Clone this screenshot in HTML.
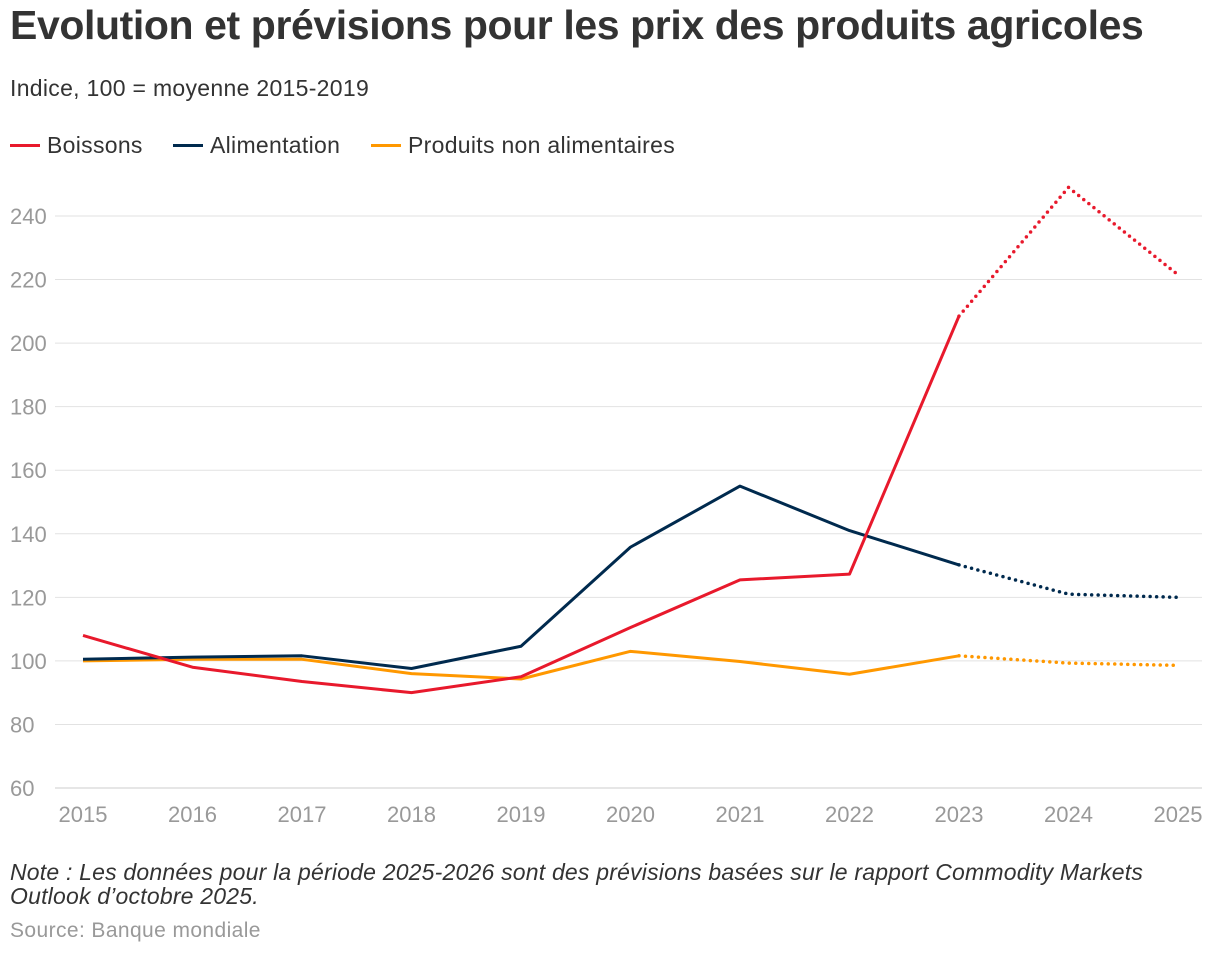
<!DOCTYPE html>
<html><head><meta charset="utf-8">
<style>
body{margin:0;background:#fff;width:1220px;height:954px;overflow:hidden;font-family:"Liberation Sans",Arial,sans-serif;color:#333;}
#title{position:absolute;left:10px;top:2px;font-size:41px;font-weight:bold;letter-spacing:-0.4px;color:#333;white-space:nowrap;}
#sub{position:absolute;left:10px;top:75px;font-size:23px;letter-spacing:0.3px;color:#333;}
.leg{position:absolute;top:132px;font-size:23px;letter-spacing:0.3px;color:#333;display:flex;align-items:center;white-space:nowrap;}
.leg span.sw{display:inline-block;width:30px;height:3px;margin-right:7px;}
#note{position:absolute;left:10px;top:860px;font-size:23px;letter-spacing:0.2px;font-style:italic;color:#333;line-height:24px;width:1180px;}
#src{position:absolute;left:10px;top:919px;font-size:21px;letter-spacing:0.4px;color:#999;}
svg{position:absolute;left:0;top:0;}
</style></head><body>
<div id="title">Evolution et prévisions pour les prix des produits agricoles</div>
<div id="sub">Indice, 100 = moyenne 2015-2019</div>
<div class="leg" style="left:10px"><span class="sw" style="background:#e8192c"></span>Boissons</div>
<div class="leg" style="left:173px"><span class="sw" style="background:#002a4e"></span>Alimentation</div>
<div class="leg" style="left:371px"><span class="sw" style="background:#ff9800"></span>Produits non alimentaires</div>
<svg id="chart" width="1220" height="954"></svg>
<div id="note">Note : Les données pour la période 2025-2026 sont des prévisions basées sur le rapport Commodity Markets Outlook d’octobre 2025.</div>
<div id="src">Source: Banque mondiale</div>
<script>
const years=[2015,2016,2017,2018,2019,2020,2021,2022,2023,2024,2025];
const yTicks=[60,80,100,120,140,160,180,200,220,240];
const boissons=[108,98,93.5,90,95,110.5,125.5,127.3,208.5,249,221.5];
const alimentation=[100.5,101.2,101.6,97.6,104.6,135.8,155,141,130.2,121,120];
const nonAlim=[100,100.5,100.5,96,94.3,103,99.8,95.8,101.6,99.3,98.6];
const forecastStart=8;
const NS="http://www.w3.org/2000/svg";
const svg=document.getElementById('chart');
const x=i=>83+(1178-83)*(years[i]-2015)/(2025-2015);
const y=v=>788-(v-60)*(788-216)/(240-60);
function el(t,a){const e=document.createElementNS(NS,t);for(const k in a)e.setAttribute(k,a[k]);svg.appendChild(e);return e;}
yTicks.forEach(v=>{
 const g=el('line',{x1:55,x2:1202,y1:y(v),y2:y(v),stroke:v===60?'#ccc':'#e2e2e2','stroke-width':1});
 
 
 const t=el('text',{x:10,y:y(v)+8,'font-size':22,fill:'#999','font-family':'Liberation Sans, Arial, sans-serif'});
 t.textContent=v;
 
 
});
years.forEach((yr,i)=>{
 const t=el('text',{x:x(i),y:822,'font-size':22,fill:'#999','text-anchor':'middle','font-family':'Liberation Sans, Arial, sans-serif'});
 t.textContent=yr;
 
 
});
function series(vals,color,name){
 const solid=vals.slice(0,forecastStart+1).map((v,i)=>x(i)+','+y(v)).join(' ');
 const dot=vals.slice(forecastStart).map((v,j)=>x(j+forecastStart)+','+y(v)).join(' ');
 const a=el('polyline',{points:solid,fill:'none',stroke:color,'stroke-width':3,'stroke-linejoin':'round'});
 
 
 const b=el('polyline',{points:dot,fill:'none',stroke:color,'stroke-width':3.5,'stroke-dasharray':'0 6.5','stroke-linecap':'round'});
 
 
}
series(nonAlim,'#ff9800','produits-non-alimentaires');
series(alimentation,'#002a4e','alimentation');
series(boissons,'#e8192c','boissons');
</script>
</body></html>
